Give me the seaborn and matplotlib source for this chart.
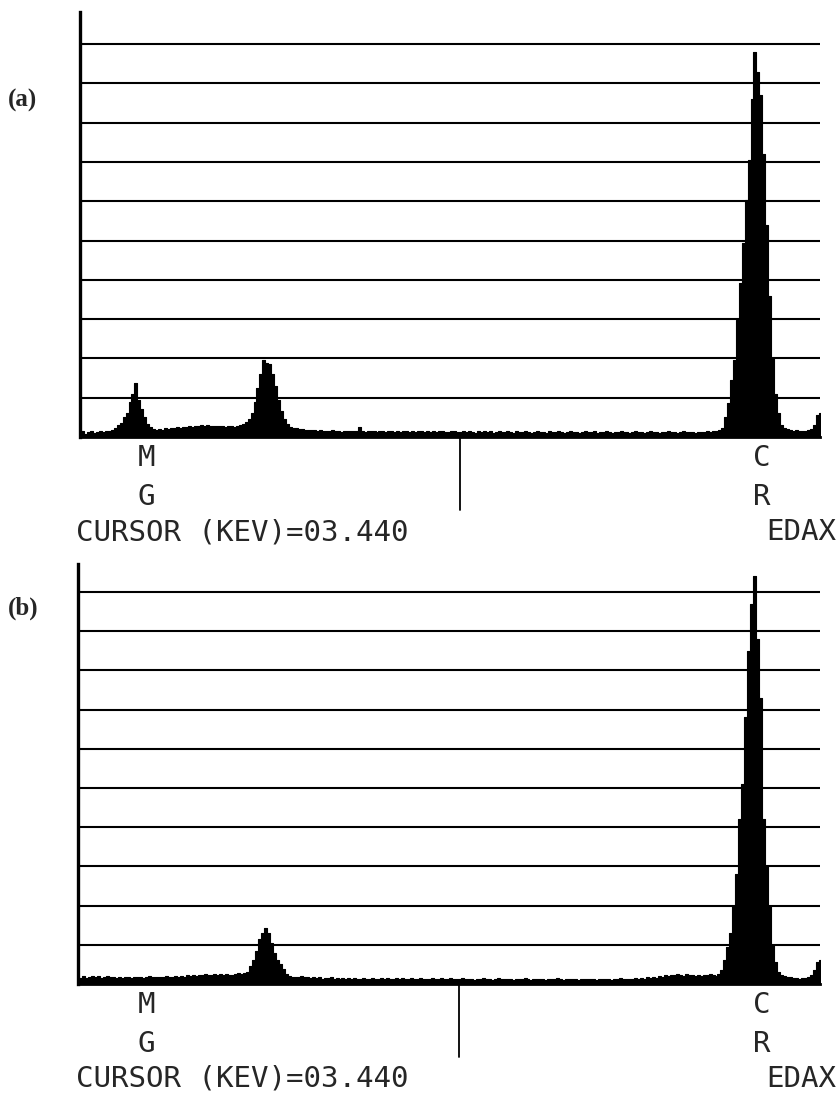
import numpy as np
import pandas as pd
import matplotlib
matplotlib.use("Agg")
import matplotlib.pyplot as plt
import seaborn as sns

# ---------------- data ----------------
# channel energies (keV), 20 eV per channel
E_START = 0.88
CH_WIDTH = 0.02
N_CH = 250
energy = [round(E_START + CH_WIDTH * i, 2) for i in range(N_CH)]

# counts in units of grid divisions (10 divisions = full scale)
counts_a = [
    # 0.88 - 1.10
    0.10, 0.14, 0.08, 0.12, 0.15, 0.10, 0.13, 0.16, 0.12, 0.15, 0.14, 0.18,
    # Mg K peak
    0.22, 0.30, 0.36, 0.50, 0.62, 0.90, 1.10, 1.37, 0.95, 0.70, 0.50, 0.33, 0.25, 0.20, 0.18,
    # background hump
    0.20, 0.19, 0.22, 0.20, 0.24, 0.22, 0.25, 0.23, 0.26, 0.25, 0.28, 0.26, 0.29, 0.27,
    0.30, 0.28, 0.30, 0.27, 0.29, 0.28, 0.27, 0.29, 0.26, 0.28, 0.27, 0.26, 0.28, 0.30,
    0.33, 0.38, 0.45,
    # second peak
    0.60, 0.90, 1.25, 1.60, 1.96, 1.88, 1.85, 1.60, 1.30, 0.95, 0.65, 0.45, 0.33, 0.26, 0.22,
    # flat background 2.34 - 5.18
    0.22, 0.20, 0.21, 0.18, 0.19, 0.17, 0.18, 0.16, 0.17, 0.15, 0.16, 0.14, 0.17,
    0.15, 0.16, 0.13, 0.15, 0.14, 0.16, 0.15, 0.14, 0.25, 0.15, 0.13, 0.16, 0.14,
    0.15, 0.12, 0.14, 0.16, 0.13, 0.15, 0.14, 0.12, 0.15, 0.13, 0.16, 0.14, 0.12,
    0.15, 0.13, 0.14, 0.16, 0.12, 0.14, 0.13, 0.15, 0.12, 0.14, 0.16, 0.13, 0.12,
    0.15, 0.14, 0.12, 0.13, 0.15, 0.12, 0.14, 0.13, 0.11, 0.14, 0.13, 0.15, 0.12,
    0.14, 0.11, 0.13, 0.15, 0.12, 0.13, 0.14, 0.12, 0.11, 0.14, 0.13, 0.12, 0.15,
    0.13, 0.11, 0.12, 0.14, 0.12, 0.13, 0.11, 0.14, 0.12, 0.13, 0.15, 0.12, 0.11,
    0.13, 0.14, 0.12, 0.13, 0.11, 0.12, 0.14, 0.13, 0.12, 0.14, 0.11, 0.13, 0.12,
    0.14, 0.13, 0.11, 0.12, 0.13, 0.15, 0.12, 0.13, 0.11, 0.12, 0.14, 0.12, 0.13,
    0.11, 0.12, 0.14, 0.13, 0.12, 0.11, 0.13, 0.12, 0.14, 0.12, 0.13, 0.11, 0.12,
    0.14, 0.12, 0.13, 0.12, 0.11, 0.13, 0.12, 0.13, 0.15, 0.12, 0.14, 0.15, 0.17,
    # Cr K-alpha peak 5.20 - 5.64
    0.22, 0.50, 0.86, 1.45, 1.96, 2.98, 3.92, 4.94, 6.03, 7.05, 8.60, 9.80, 9.30, 8.70,
    7.20, 5.40, 3.60, 2.00, 1.10, 0.60, 0.30, 0.22, 0.20,
    # tail toward Cr K-beta
    0.18, 0.15, 0.17, 0.14, 0.16, 0.15, 0.17, 0.20, 0.30, 0.55, 0.60,
]

counts_b = [
    # 0.88 - 1.10
    0.18, 0.15, 0.20, 0.16, 0.19, 0.21, 0.17, 0.20, 0.16, 0.19, 0.21, 0.17,
    # (no Mg peak)
    0.18, 0.16, 0.19, 0.15, 0.17, 0.19, 0.16, 0.18, 0.17, 0.19, 0.16, 0.18, 0.20, 0.17, 0.19,
    # background hump
    0.17, 0.19, 0.18, 0.20, 0.17, 0.19, 0.21, 0.18, 0.20, 0.19, 0.22, 0.20, 0.23, 0.21,
    0.24, 0.22, 0.25, 0.22, 0.24, 0.26, 0.22, 0.25, 0.23, 0.26, 0.24, 0.22, 0.25, 0.27,
    0.26, 0.28, 0.30,
    # second peak
    0.45, 0.60, 0.85, 1.15, 1.30, 1.42, 1.30, 1.05, 0.80, 0.60, 0.50, 0.38, 0.25, 0.20, 0.18,
    # flat background 2.34 - 5.18
    0.19, 0.18, 0.20, 0.17, 0.18, 0.16, 0.17, 0.15, 0.17, 0.14, 0.16, 0.15, 0.17,
    0.14, 0.15, 0.13, 0.16, 0.14, 0.15, 0.13, 0.16, 0.14, 0.13, 0.15, 0.14, 0.12,
    0.15, 0.12, 0.14, 0.16, 0.13, 0.15, 0.14, 0.12, 0.15, 0.13, 0.16, 0.14, 0.12,
    0.15, 0.13, 0.14, 0.16, 0.12, 0.14, 0.13, 0.15, 0.12, 0.14, 0.16, 0.13, 0.12,
    0.15, 0.14, 0.12, 0.13, 0.15, 0.12, 0.14, 0.13, 0.11, 0.14, 0.13, 0.15, 0.12,
    0.14, 0.11, 0.13, 0.15, 0.12, 0.13, 0.14, 0.12, 0.11, 0.14, 0.13, 0.12, 0.15,
    0.13, 0.11, 0.12, 0.14, 0.12, 0.13, 0.11, 0.14, 0.12, 0.13, 0.15, 0.12, 0.11,
    0.13, 0.14, 0.12, 0.13, 0.11, 0.12, 0.14, 0.13, 0.12, 0.14, 0.11, 0.13, 0.12,
    0.14, 0.13, 0.11, 0.12, 0.13, 0.15, 0.12, 0.13, 0.14, 0.12, 0.16, 0.13, 0.15,
    0.14, 0.17, 0.15, 0.18, 0.16, 0.20, 0.18, 0.22, 0.20, 0.24, 0.22, 0.25, 0.23,
    0.20, 0.25, 0.22, 0.24, 0.21, 0.23, 0.20, 0.24, 0.22, 0.25, 0.23, 0.20, 0.25,
    # Cr K-alpha peak 5.20 - 5.64
    0.35, 0.60, 0.95, 1.30, 2.00, 2.80, 4.20, 5.10, 6.80, 8.50, 9.70, 10.40, 8.80, 7.30,
    4.20, 3.00, 2.00, 1.00, 0.55, 0.30, 0.22, 0.20, 0.18,
    # tail toward Cr K-beta
    0.17, 0.15, 0.16, 0.14, 0.15, 0.16, 0.18, 0.22, 0.35, 0.55, 0.60,
]

cursor_kev = 3.44
grid_levels = list(range(1, 11))
label_text = "CURSOR (KEV)=03.440"
panel_tags = ["(a)", "(b)"]

# ---------------- figure ----------------
sns.set_theme(style="white")
plt.rcParams["font.family"] = ["DejaVu Sans Mono", "DejaVu Sans"]

W, H = 838, 1100
fig = plt.figure(figsize=(W / 100, H / 100), dpi=100)
fig.patch.set_facecolor("white")

X_MIN, X_MAX = 0.884, 5.857
BIN_RANGE = (E_START - CH_WIDTH / 2, E_START + CH_WIDTH * (N_CH - 0.5))

# panel geometry in pixels: left, right, baseline, top, grid spacing
panels = [
    dict(counts=counts_a, left=80, right=820, base=437, top=12, step=39.3, tag_y=100),
    dict(counts=counts_b, left=78, right=820, base=984, top=564, step=39.2, tag_y=608),
]


def fx(px):
    return px / W


def fy(py):
    return 1 - py / H


for p, tag in zip(panels, panel_tags):
    ax = fig.add_axes([fx(p["left"]), fy(p["base"]),
                       (p["right"] - p["left"]) / W, (p["base"] - p["top"]) / H])
    ymax = (p["base"] - p["top"]) / p["step"]
    df = pd.DataFrame({"energy": energy, "counts": p["counts"]})
    sns.histplot(data=df, x="energy", weights="counts", binwidth=CH_WIDTH,
                 binrange=BIN_RANGE, element="step", fill=True, color="black",
                 alpha=1.0, linewidth=0.8, edgecolor="black", ax=ax)
    for g in grid_levels:
        ax.axhline(g, color="black", lw=1.5, zorder=0)
    ax.set_xlim(X_MIN, X_MAX)
    ax.set_ylim(0, ymax)
    ax.set_xticks([])
    ax.set_yticks([])
    ax.set_xlabel("")
    ax.set_ylabel("")
    ax.set_facecolor("white")
    for side in ["top", "right"]:
        ax.spines[side].set_visible(False)
    ax.spines["left"].set_linewidth(2.4)
    ax.spines["bottom"].set_linewidth(2.0)
    ax.spines["left"].set_color("black")
    ax.spines["bottom"].set_color("black")

    # cursor marker below the baseline
    drop = 73 / p["step"]
    ax.plot([cursor_kev, cursor_kev], [0, -drop], color="black", lw=1.3,
            clip_on=False)

    b = p["base"]
    fs = 21
    fig.text(fx(146), fy(b + 21), "M", ha="center", va="center", fontsize=fs)
    fig.text(fx(146), fy(b + 60), "G", ha="center", va="center", fontsize=fs)
    fig.text(fx(762), fy(b + 21), "C", ha="center", va="center", fontsize=fs)
    fig.text(fx(762), fy(b + 60), "R", ha="center", va="center", fontsize=fs)
    fig.text(fx(76), fy(b + 95), label_text, ha="left", va="center", fontsize=fs)
    fig.text(fx(836), fy(b + 95), "EDAX", ha="right", va="center", fontsize=fs)

    fig.text(fx(8), fy(p["tag_y"]), tag, ha="left", va="center", fontsize=18,
             fontweight="bold", family=["Liberation Serif", "DejaVu Serif"])

fig.savefig("out.png", dpi=100, facecolor="white")
